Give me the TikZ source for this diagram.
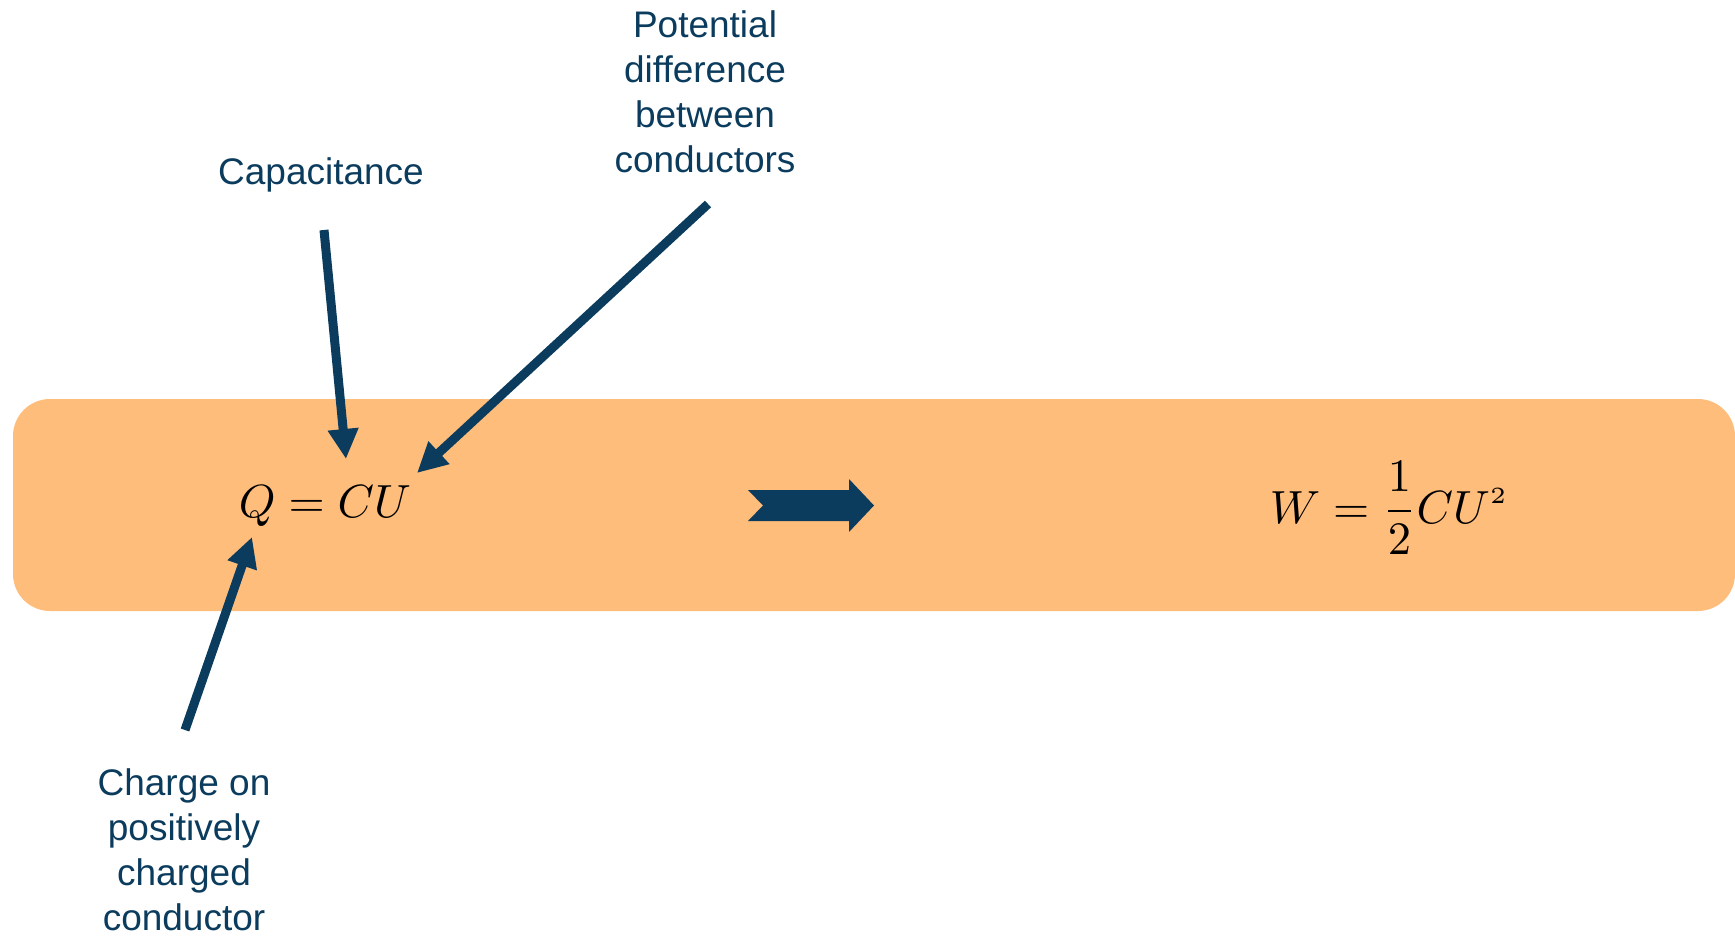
\documentclass[tikz,border=0pt]{standalone}
\usepackage{graphicx}
\usepackage[no-math]{fontspec}
\setmainfont{Liberation Sans}
\usetikzlibrary{arrows.meta}
\definecolor{navy}{HTML}{0B3C5D}
\definecolor{peach}{HTML}{FFBD7C}
\newcommand{\eqscaled}[1]{\scalebox{4.65}{#1}}
\tikzset{
  lbl/.style={text=navy, align=center, inner sep=0pt, font=\fontsize{37}{45}\selectfont},
  eqn/.style={text=black, inner sep=0pt, font=\normalsize},
  pointer/.style={draw=navy, line width=9pt, -{Triangle[length=30pt,width=29pt]}}
}
\begin{document}
\begin{tikzpicture}[x=1pt,y=-1pt]
\useasboundingbox (0,0) rectangle (1735,936);
\fill[peach, rounded corners=37pt] (13,399) rectangle (1735,611);
\node[eqn, anchor=base] (q) at (325,517) {\eqscaled{$Q=CU$}};
\node[eqn, anchor=base] (w) at (1389,523) {\eqscaled{$\displaystyle W=\frac{1}{\vphantom{1}2}CU^{\scriptscriptstyle 2}$}};
\fill[navy] (748,490) -- (849,490) -- (849,479) -- (874,505.5) -- (849,532) -- (849,521) -- (748,521) -- (763,505.5) -- cycle;
\node[lbl, anchor=base] (cap) at (321,185) {Capacitance};
\node[lbl] (pot) at (705,92) {Potential\\difference\\between\\conductors};
\node[lbl] (chg) at (184,850) {Charge on\\positively\\charged\\conductor};
\coordinate (capS) at (324,230);
\coordinate (capT) at (346,459);
\coordinate (potS) at (708,204);
\coordinate (potT) at (417,473);
\coordinate (chgS) at (185,730);
\coordinate (chgT) at (252,537);
\draw[pointer] (capS) -- (capT);
\draw[pointer] (potS) -- (potT);
\draw[pointer] (chgS) -- (chgT);
\end{tikzpicture}
\end{document}
